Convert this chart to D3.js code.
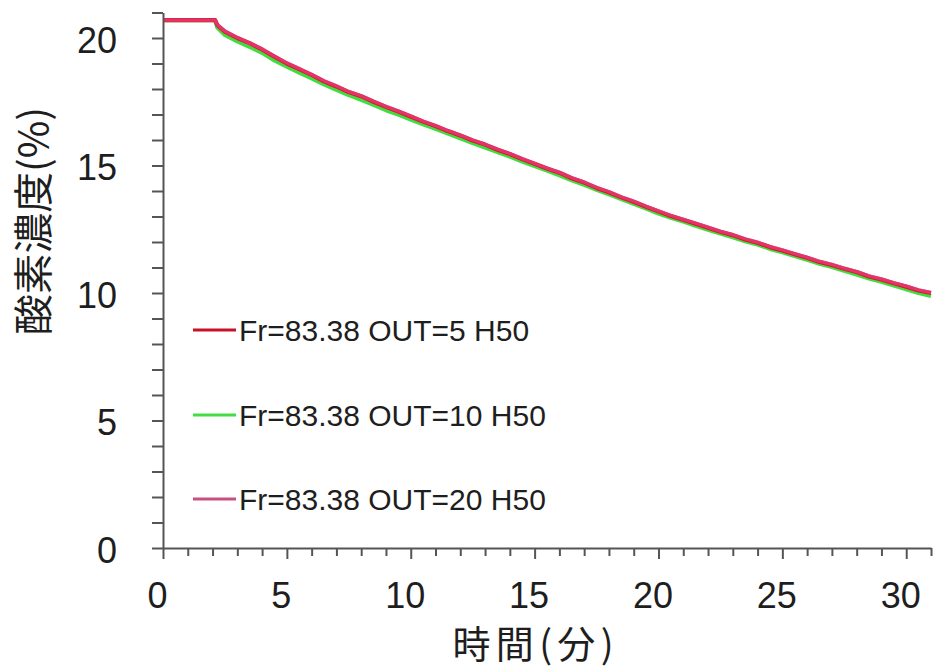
<!DOCTYPE html>
<html><head><meta charset="utf-8">
<script src="https://cdn.jsdelivr.net/npm/d3@7"></script>
<style>
html,body{margin:0;padding:0;background:#fff;}
svg{display:block;}
</style></head>
<body>
<svg id="chart" width="933" height="668"></svg>
<script>
// ---- data ----
const times = [0, 2.1, 2.2, 2.5, 3, 3.5, 4, 4.5, 5, 5.5, 6, 6.5, 7, 7.5, 8, 8.5, 9, 9.5, 10, 10.5, 11, 11.5, 12, 12.5, 13, 13.5, 14, 14.5, 15, 15.5, 16, 16.5, 17, 17.5, 18, 18.5, 19, 19.5, 20, 20.5, 21, 21.5, 22, 22.5, 23, 23.5, 24, 24.5, 25, 25.5, 26, 26.5, 27, 27.5, 28, 28.5, 29, 29.5, 30, 30.5, 31];
const out5 = [20.7, 20.7, 20.5, 20.25, 20.0, 19.8, 19.55, 19.27, 19.0, 18.78, 18.55, 18.3, 18.1, 17.88, 17.72, 17.5, 17.3, 17.12, 16.92, 16.72, 16.55, 16.35, 16.18, 15.98, 15.82, 15.62, 15.45, 15.25, 15.07, 14.88, 14.72, 14.5, 14.33, 14.12, 13.95, 13.75, 13.58, 13.38, 13.2, 13.02, 12.87, 12.72, 12.56, 12.4, 12.27, 12.1, 11.97, 11.8, 11.67, 11.52, 11.38, 11.22, 11.1, 10.95, 10.82, 10.65, 10.53, 10.38, 10.25, 10.1, 10.0];
const out10 = [20.7, 20.7, 20.4, 20.12, 19.87, 19.65, 19.42, 19.12, 18.88, 18.64, 18.42, 18.18, 17.97, 17.76, 17.58, 17.38, 17.17, 17.0, 16.8, 16.62, 16.44, 16.25, 16.07, 15.88, 15.71, 15.53, 15.35, 15.16, 14.98, 14.8, 14.62, 14.42, 14.24, 14.05, 13.87, 13.68, 13.5, 13.31, 13.12, 12.95, 12.8, 12.64, 12.48, 12.33, 12.19, 12.03, 11.9, 11.73, 11.6, 11.45, 11.3, 11.15, 11.02, 10.87, 10.73, 10.57, 10.44, 10.29, 10.15, 10.0, 9.88];
const out20 = [20.7, 20.7, 20.52, 20.27, 20.02, 19.8, 19.57, 19.28, 19.02, 18.8, 18.56, 18.32, 18.12, 17.9, 17.73, 17.52, 17.32, 17.13, 16.94, 16.74, 16.56, 16.37, 16.19, 16.0, 15.83, 15.64, 15.46, 15.27, 15.08, 14.9, 14.73, 14.52, 14.35, 14.14, 13.97, 13.77, 13.6, 13.4, 13.22, 13.04, 12.89, 12.74, 12.58, 12.42, 12.29, 12.12, 11.99, 11.82, 11.69, 11.54, 11.4, 11.24, 11.12, 10.97, 10.84, 10.67, 10.55, 10.4, 10.27, 10.12, 10.02];
const seriesNames = ["Fr=83.38 OUT=5 H50", "Fr=83.38 OUT=10 H50", "Fr=83.38 OUT=20 H50"];
const xTicks = [0, 5, 10, 15, 20, 25, 30];
const yTicks = [0, 5, 10, 15, 20];
const xLabel = "時間(分)";
const yLabel = "酸素濃度(%)";

// ---- drawing ----
const svg = d3.select("#chart");
const x = d3.scaleLinear().domain([0, 31]).range([163, 931]);
const y = d3.scaleLinear().domain([0, 21]).range([548, 12.5]);

const lineColors = ["#e3102a", "#3ede3e", "#e0407e"];
const legendColors = ["#c81128", "#44dd44", "#c8507e"];
const data = [out5, out10, out20];

const line = d3.line().x((d, i) => x(times[i])).y(d => y(d));

// draw green underneath, then red, then pink
[1, 0, 2].forEach(k => {
  svg.append("path")
    .datum(data[k])
    .attr("d", line)
    .attr("fill", "none")
    .attr("stroke", lineColors[k])
    .attr("stroke-width", k === 2 ? 3.4 : 4.2)
    .attr("stroke-opacity", k === 2 ? 0.75 : 1)
    .attr("stroke-linejoin", "round");
});

const axisColor = "#555";
const textColor = "#1e1e1e";
const fontFam = "'Liberation Sans', Arial, sans-serif";

// y axis
const yAxis = svg.append("g").attr("transform", "translate(163,0)")
  .call(d3.axisLeft(y).tickValues(d3.range(0, 22, 1)).tickSize(11).tickSizeOuter(0)
    .tickFormat(d => yTicks.includes(d) ? String(d) : ""));
yAxis.select(".domain").attr("stroke", axisColor).attr("stroke-width", 2);
yAxis.selectAll(".tick line").attr("stroke", axisColor).attr("stroke-width", 2);
yAxis.selectAll(".tick text")
  .attr("x", -46).attr("dy", "14px")
  .attr("fill", textColor).style("font-size", "36px").style("font-family", fontFam);

// x axis
const xAxis = svg.append("g").attr("transform", "translate(0,548)")
  .call(d3.axisBottom(x).tickValues(d3.range(0, 32, 1)).tickSize(8).tickSizeOuter(0)
    .tickFormat(d => xTicks.includes(d) ? String(d) : ""));
xAxis.select(".domain").attr("stroke", axisColor).attr("stroke-width", 2);
xAxis.selectAll(".tick line").attr("stroke", axisColor).attr("stroke-width", 2)
  .attr("y2", d => xTicks.includes(d) ? 11 : 8);
xAxis.selectAll(".tick text")
  .attr("x", 0).attr("y", 60).attr("dy", 0).attr("dx", -6)
  .attr("fill", textColor).style("font-size", "36px").style("font-family", fontFam);

// axis titles
svg.append("text")
  .attr("x", 533).attr("y", 658)
  .attr("text-anchor", "middle")
  .attr("fill", textColor)
  .attr("textLength", 161)
  .attr("lengthAdjust", "spacing")
  .style("font-size", "38px")
  .style("font-family", "'Noto Sans CJK JP', sans-serif")
  .text(xLabel);

svg.append("text")
  .attr("transform", "translate(48,221) rotate(-90)")
  .attr("text-anchor", "middle")
  .attr("fill", textColor)
  .attr("textLength", 228)
  .attr("lengthAdjust", "spacingAndGlyphs")
  .style("font-size", "40px")
  .style("font-family", "'Noto Sans CJK JP', sans-serif")
  .text(yLabel);

// legend
const legY = [330, 415, 499];
seriesNames.forEach((name, k) => {
  svg.append("line")
    .attr("x1", 193).attr("x2", 236)
    .attr("y1", legY[k]).attr("y2", legY[k])
    .attr("stroke", legendColors[k]).attr("stroke-width", 3);
  svg.append("text")
    .attr("x", 239).attr("y", legY[k] + 11)
    .attr("fill", textColor)
    .style("font-size", "30px")
    .style("font-family", fontFam)
    .text(name);
});
</script>
</body></html>
